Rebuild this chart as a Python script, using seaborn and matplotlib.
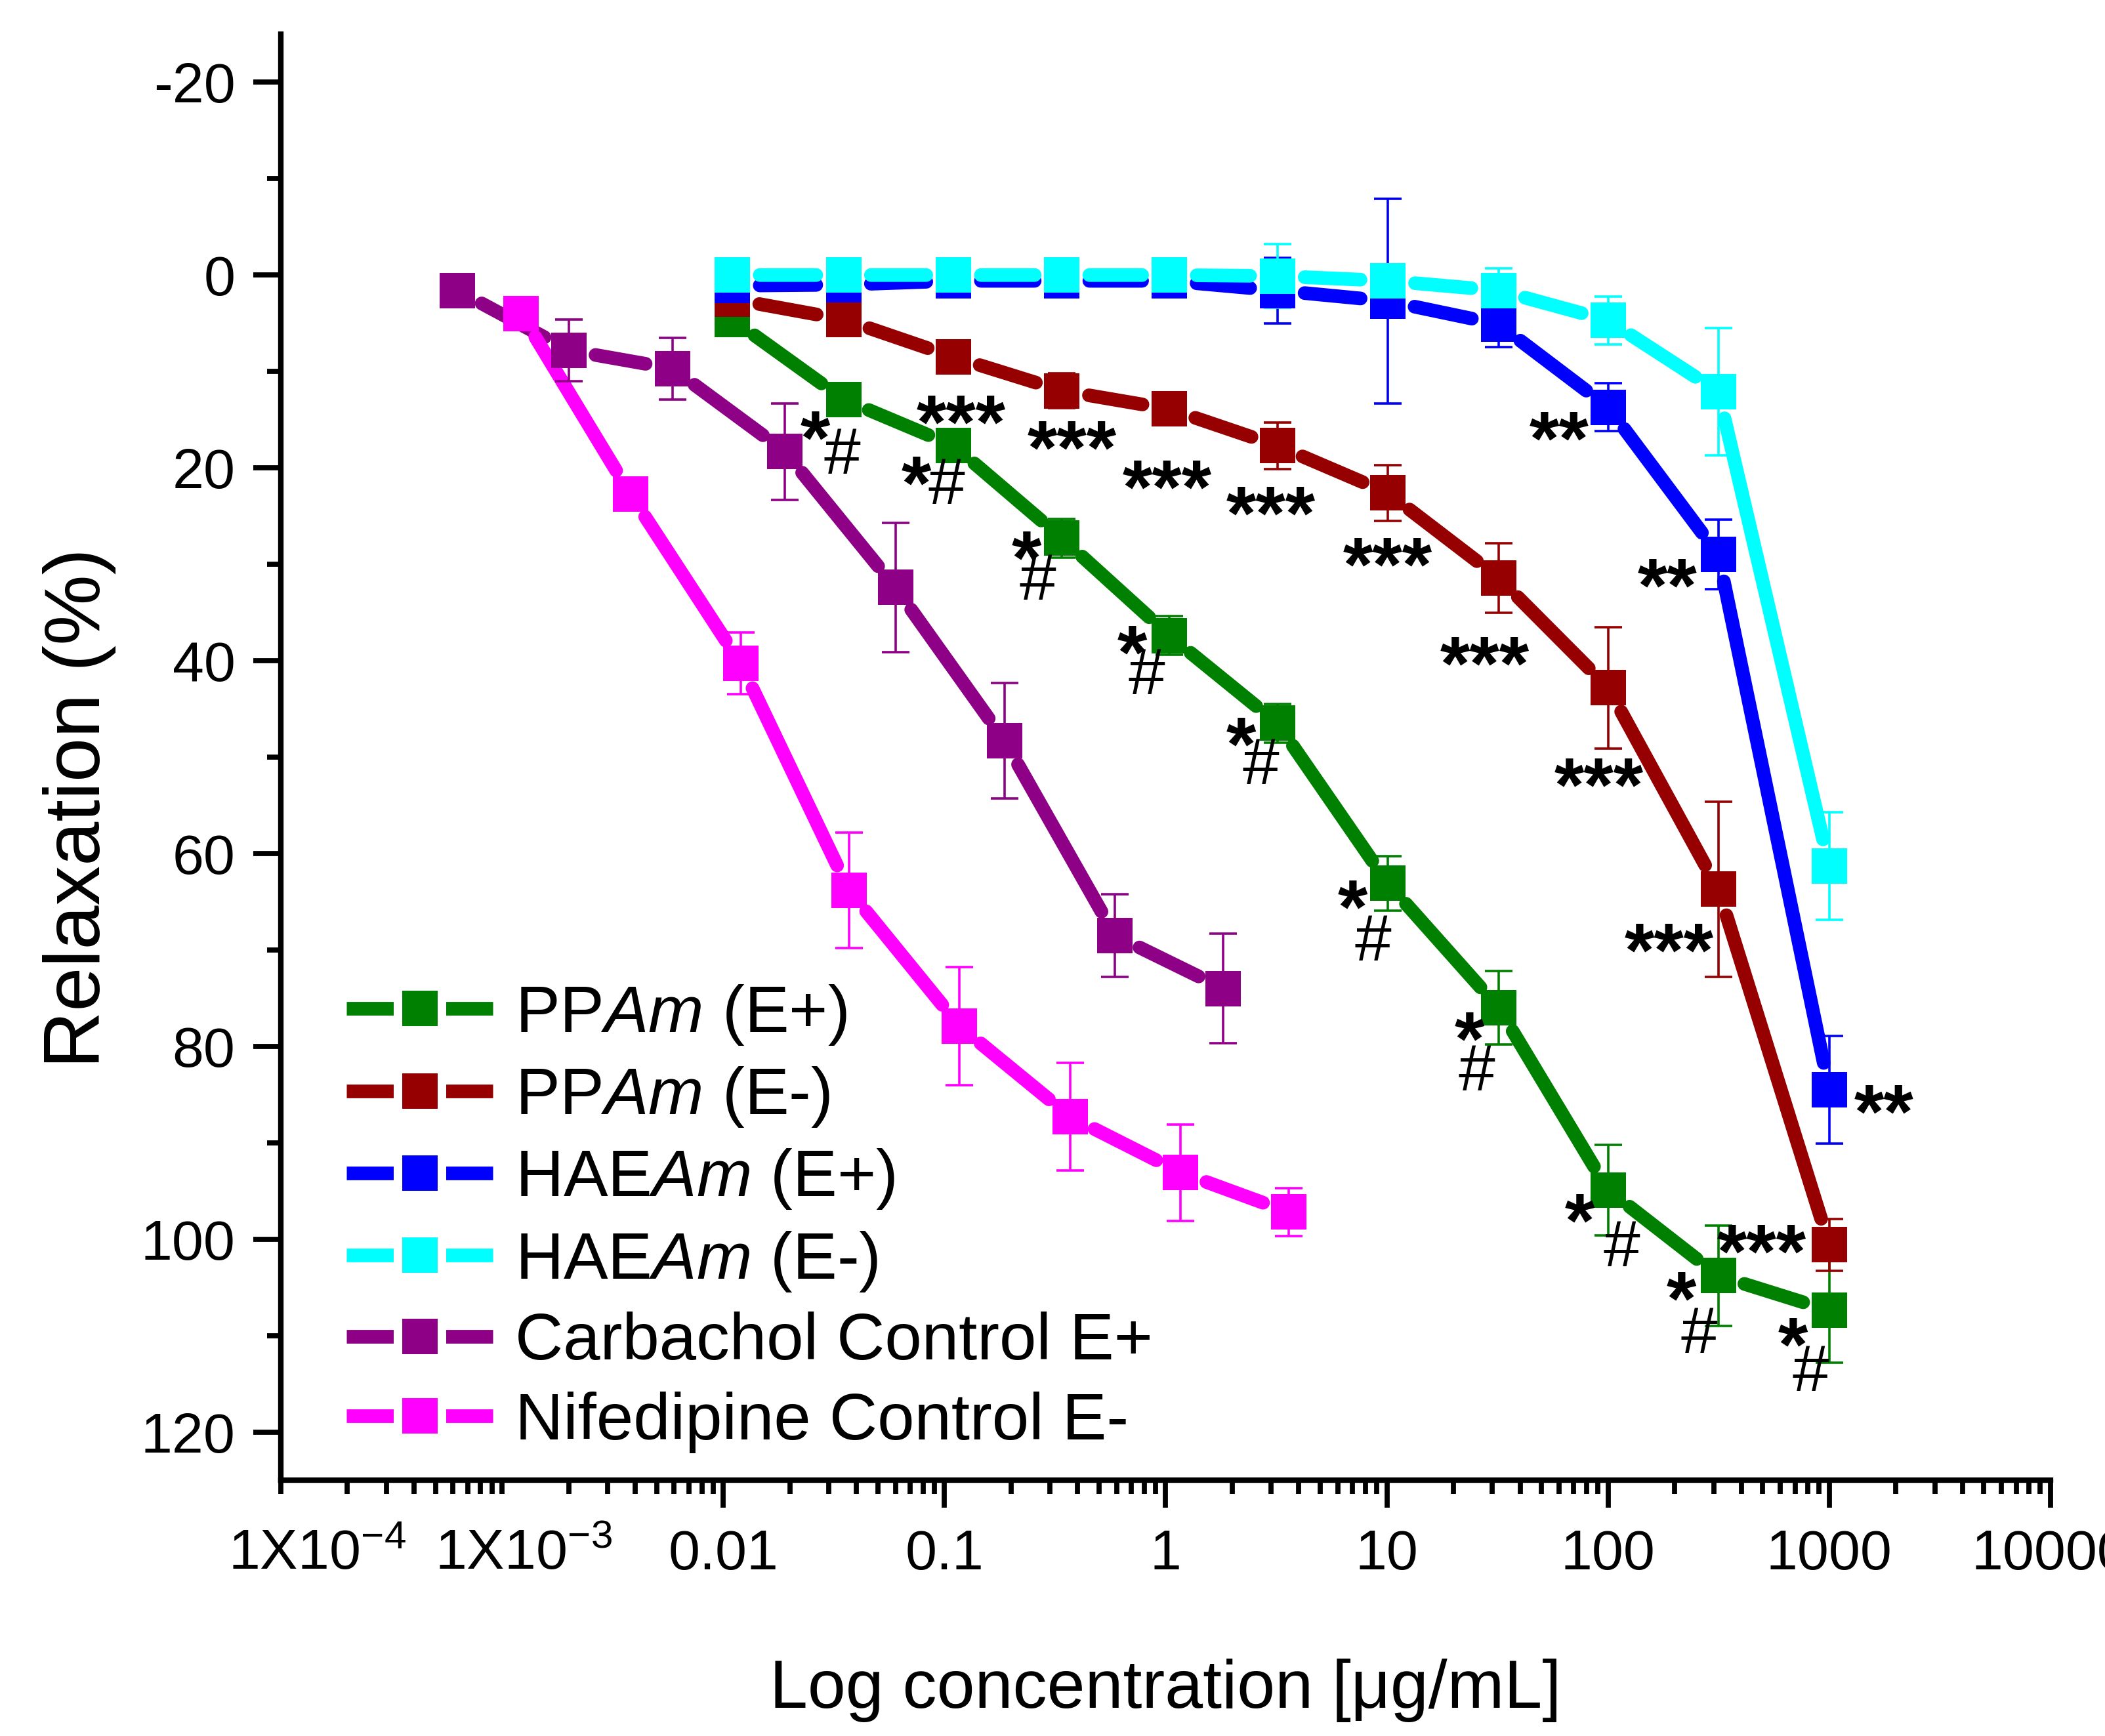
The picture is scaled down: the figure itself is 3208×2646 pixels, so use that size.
import numpy as np
import pandas as pd
import matplotlib
matplotlib.use('Agg')
import matplotlib.pyplot as plt
import seaborn as sns
from matplotlib.lines import Line2D
from matplotlib.ticker import FixedLocator, LogLocator, NullFormatter, AutoMinorLocator
from matplotlib.transforms import ScaledTranslation

# ---------------- data ----------------
conc_pp = [0.011, 0.035, 0.11, 0.34, 1.04, 3.2, 10.1, 32, 100, 315, 1000]
ppam_ep = [4.6, 12.9, 17.7, 27.3, 37.4, 46.5, 63.1, 76.0, 94.9, 103.8, 107.4]
ppam_ep_err = [0.5, 1.0, 1.0, 2.0, 2.0, 2.0, 2.8, 3.8, 4.7, 5.2, 5.4]
ppam_em = [2.5, 4.6, 8.5, 12.0, 13.9, 17.7, 22.6, 31.4, 42.8, 63.7, 100.6]
ppam_em_err = [0.5, 0.8, 1.0, 1.8, 1.2, 2.4, 2.9, 3.6, 6.3, 9.1, 2.7]
haeam_ep = [1.1, 1.0, 0.6, 0.6, 0.6, 1.6, 2.7, 5.1, 13.7, 29.0, 84.5]
haeam_ep_err = [0.5, 0.5, 0.5, 0.5, 0.5, 3.4, 10.6, 2.4, 2.5, 3.6, 5.6]
haeam_em = [0.0, 0.0, 0.0, 0.0, 0.0, 0.1, 0.6, 1.6, 4.7, 12.1, 61.3]
haeam_em_err = [0.3, 0.3, 0.3, 0.3, 0.3, 3.3, 1.0, 2.3, 2.5, 6.6, 5.6]

conc_carb = [6.3e-4, 2.0e-3, 5.9e-3, 0.019, 0.060, 0.187, 0.59, 1.82]
carbachol = [1.6, 7.8, 9.7, 18.3, 32.4, 48.3, 68.5, 74.0]
carbachol_err = [0.3, 3.2, 3.2, 5.0, 6.7, 6.0, 4.3, 5.7]

conc_nif = [1.22e-3, 3.8e-3, 0.012, 0.037, 0.117, 0.37, 1.17, 3.6]
nifedipine = [4.0, 22.7, 40.3, 63.8, 77.9, 87.3, 93.1, 97.2]
nifedipine_err = [0.3, 0.5, 3.2, 6.0, 6.1, 5.6, 5.0, 2.5]

labels = ['PP$\\mathit{Am}$ (E+)', 'PP$\\mathit{Am}$ (E-)', 'HAE$\\mathit{Am}$ (E+)',
          'HAE$\\mathit{Am}$ (E-)', 'Carbachol Control E+', 'Nifedipine Control E-']
colors = ['#008000', '#960000', '#0000FF', '#00FFFF', '#8E0086', '#FF00FF']

xtick_vals = [1e-4, 1e-3, 0.01, 0.1, 1, 10, 100, 1000, 10000]
xtick_labels = ['1X10$^{-4}$', '1X10$^{-3}$', '0.01', '0.1', '1', '10', '100', '1000', '10000']
ytick_vals = [-20, 0, 20, 40, 60, 80, 100, 120]
ytick_labels = ['-20', '0', '20', '40', '60', '80', '100', '120']

# significance marks (one entry per point)
sig_ppam_ep_star = [''] + ['*'] * 10
sig_ppam_ep_hash = [''] + ['#'] * 10
sig_ppam_em = ['', ''] + ['***'] * 9
sig_haeam_ep = [''] * 8 + ['**'] * 3

# ---------------- style ----------------
sns.set_style('ticks', {'axes.edgecolor': 'black', 'xtick.color': 'black',
                        'ytick.color': 'black', 'text.color': 'black',
                        'axes.labelcolor': 'black'})
plt.rcParams['font.family'] = ['Liberation Sans', 'DejaVu Sans']
plt.rcParams['mathtext.fontset'] = 'custom'
plt.rcParams['mathtext.rm'] = 'Liberation Sans'
plt.rcParams['mathtext.it'] = 'Liberation Sans:italic'
plt.rcParams['mathtext.bf'] = 'Liberation Sans:bold'

LW = 7.5        # line width (pt)
MS = 19.5       # marker side (pt)
SHRINK = 15.0   # gap around markers (pt)
STAR_FS = 42
HASH_FS = 36

fig = plt.figure(figsize=(16.04, 13.23), dpi=200)
ax = fig.add_axes([0.1334, 0.1474, 0.8407, 0.833])
ax.set_xscale('log')
ax.set_xlim(1e-4, 1e4)
ax.set_ylim(125, -25)

series = [
    (conc_pp, ppam_ep, ppam_ep_err),
    (conc_pp, ppam_em, ppam_em_err),
    (conc_pp, haeam_ep, haeam_ep_err),
    (conc_pp, haeam_em, haeam_em_err),
    (conc_carb, carbachol, carbachol_err),
    (conc_nif, nifedipine, nifedipine_err),
]

for k, ((xs, ys, es), c) in enumerate(zip(series, colors)):
    df = pd.DataFrame({'x': xs, 'y': ys, 'e': es})
    for i in range(len(df) - 1):
        ax.annotate('', xy=(df.x[i + 1], df.y[i + 1]), xytext=(df.x[i], df.y[i]),
                    xycoords='data', textcoords='data',
                    arrowprops=dict(arrowstyle='-', color=c, lw=LW,
                                    shrinkA=SHRINK, shrinkB=SHRINK),
                    zorder=2 + 0.01 * k)
    ax.errorbar(df.x, df.y, yerr=df.e, fmt='none', ecolor=c, elinewidth=1.3,
                capsize=7.5, capthick=1.3, zorder=3 + 0.01 * k)
    sns.scatterplot(data=df, x='x', y='y', marker='s', s=MS ** 2, color=c,
                    linewidth=0, ax=ax, zorder=4 + 0.1 * k, legend=False)

# ---------------- significance annotations ----------------
green_star_off = [(-15.5, -11.9), (-20.6, -11.5), (-19.5, -1.6), (-20.6, 0), (-20, -2.3),
                  (-19.4, -3.7), (-15.9, -8), (-15.6, -7.6), (-20.3, -3.5), (-20, -9.6)]
green_hash_off = [(-0.7, -28), (-4, -19.5), (-13.3, -21), (-12.6, -19.5), (-9.2, -20.7),
                  (-8.2, -29.8), (-12, -32.6), (7.6, -29.4), (-10.4, -29.8), (-10.3, -31.4)]
red_star_off = [(4.3, -26.6), (5.4, -22.3), (-1.1, -33.8), (-3.6, -28.1), (0, -30.2),
                (-7.6, -38.1), (-5, -44.2), (-27, -24.5), (-37, 5.4)]
blue_star_off = [(-27, -8.3), (-28, -7.9), (30, -2.9)]


def mark(x, y, txt, off, fs, center_frac, bold):
    # off gives the target centre of the glyph; convert to baseline position
    ax.annotate(txt, xy=(x, y), xytext=(off[0], off[1] - center_frac * fs),
                textcoords='offset points', ha='center', va='baseline',
                fontsize=fs, fontweight='bold' if bold else 'normal', zorder=6)


def place(xs, ys, sig, offs, fs, cf, bold):
    it = iter(offs)
    for x, y, s in zip(xs, ys, sig):
        if s:
            mark(x, y, s, next(it), fs, cf, bold)


place(conc_pp, ppam_ep, sig_ppam_ep_star, green_star_off, STAR_FS, 0.56, True)
place(conc_pp, ppam_ep, sig_ppam_ep_hash, green_hash_off, HASH_FS, 0.35, False)
place(conc_pp, ppam_em, sig_ppam_em, red_star_off, STAR_FS, 0.56, True)
place(conc_pp, haeam_ep, sig_haeam_ep, blue_star_off, STAR_FS, 0.56, True)

# ---------------- axes ----------------
for side in ['top', 'right']:
    ax.spines[side].set_visible(False)
for side in ['left', 'bottom']:
    ax.spines[side].set_linewidth(3)

ax.set_yticks(ytick_vals, labels=ytick_labels)
ax.yaxis.set_minor_locator(AutoMinorLocator(2))
ax.xaxis.set_major_locator(FixedLocator(xtick_vals))
ax.set_xticks(xtick_vals, labels=xtick_labels)
ax.xaxis.set_minor_locator(LogLocator(base=10, subs=np.arange(2, 10), numticks=100))
ax.xaxis.set_minor_formatter(NullFormatter())

ax.tick_params(axis='both', which='major', length=15, width=2.8, labelsize=31,
               direction='out')
ax.tick_params(axis='both', which='minor', length=7.5, width=2.8, direction='out')
ax.tick_params(axis='y', which='major', pad=10)
ax.tick_params(axis='x', which='major', pad=34)
ax.grid(False)

mticks = ax.xaxis.get_major_ticks()
for t in mticks:
    t.label1.set_va('baseline')
for t, shift in zip(mticks[:2], [20, 12]):
    t.tick1line.set_markersize(7.5)
    t.label1.set_transform(t.label1.get_transform() +
                           ScaledTranslation(shift / 72, 0, fig.dpi_scale_trans))

ax.set_ylabel('Relaxation (%)', fontsize=43.5)
ax.yaxis.set_label_coords(-0.093, 0.465)
ax.set_xlabel('Log concentration [μg/mL]', fontsize=37.5)
ax.xaxis.set_label_coords(0.5, -0.1233)

# ---------------- legend ----------------
GAP = 4.7
handles = []
for c in colors:
    handles.append((Line2D([], [], color=c, lw=LW, solid_capstyle='butt'),
                    Line2D([], [], ls='none', marker='s', ms=MS + 2 * GAP, color='white', mew=0),
                    Line2D([], [], ls='none', marker='s', ms=MS, color=c, mew=0)))
ax.legend(handles, labels, loc='lower left', bbox_to_anchor=(0.0371, 0.0188),
          frameon=False, fontsize=36.5, handlelength=2.2, handletextpad=0.33,
          labelspacing=0.27, borderpad=0, borderaxespad=0)

fig.savefig('out.png', dpi=200)
